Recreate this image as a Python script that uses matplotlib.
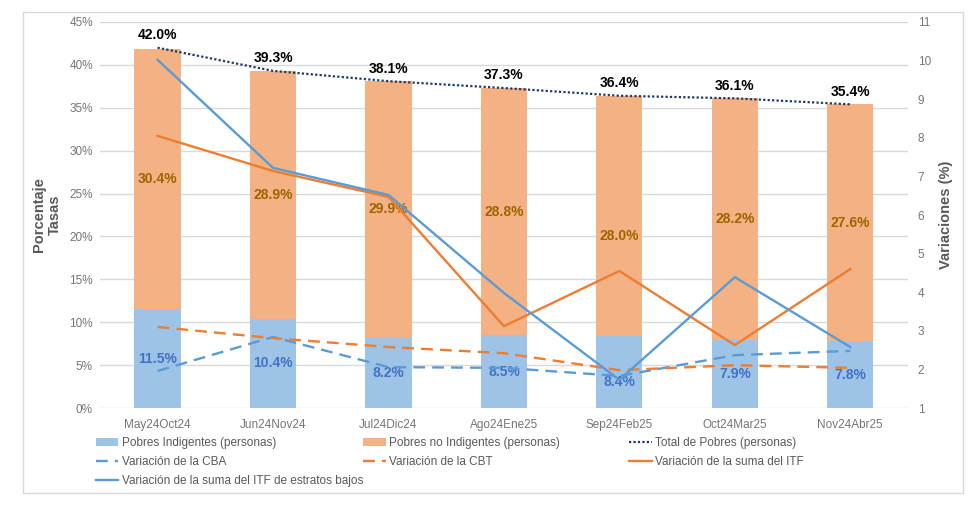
import matplotlib.pyplot as plt
import matplotlib.patches as mpatches
import numpy as np

plt.rcParams['font.family'] = ['Liberation Sans', 'DejaVu Sans']

periodos = ['May24Oct24', 'Jun24Nov24', 'Jul24Dic24', 'Ago24Ene25',
            'Sep24Feb25', 'Oct24Mar25', 'Nov24Abr25']
indigentes = [11.5, 10.4, 8.2, 8.5, 8.4, 7.9, 7.8]
no_indigentes = [30.4, 28.9, 29.9, 28.8, 28.0, 28.2, 27.6]
total_pobres = [42.0, 39.3, 38.1, 37.3, 36.4, 36.1, 35.4]
var_cba = [1.96, 2.84, 2.06, 2.04, 1.83, 2.37, 2.48]
var_cbt = [3.10, 2.81, 2.58, 2.42, 1.98, 2.11, 2.04]
var_itf = [8.05, 7.14, 6.47, 3.12, 4.55, 2.63, 4.60]
var_itf_bajos = [10.02, 7.22, 6.52, 3.98, 1.73, 4.39, 2.58]

grey = '#595959'
tick_grey = '#757575'
c_ind = '#9DC3E6'
c_noind = '#F4B183'
c_blue = '#5B9BD5'
c_orange = '#ED7D31'
c_navy = '#203864'

fig = plt.figure(figsize=(9.79, 5.09), dpi=100)
fig.patches.append(mpatches.Rectangle((0.0235, 0.031), 0.96, 0.945, transform=fig.transFigure,
                                      fill=False, edgecolor='#D9D9D9', linewidth=1))
ax = fig.add_axes([0.102, 0.1984, 0.8255, 0.7584])
ax2 = ax.twinx()

x = np.arange(len(periodos))
b1 = ax.bar(x, indigentes, width=0.4, color=c_ind, label='Pobres Indigentes (personas)', zorder=2)
b2 = ax.bar(x, no_indigentes, width=0.4, bottom=indigentes, color=c_noind,
            label='Pobres no Indigentes (personas)', zorder=2)
l_tot, = ax.plot(x, total_pobres, linestyle=(0, (1, 1)), color=c_navy, linewidth=1.6,
                 label='Total de Pobres (personas)', zorder=3)

l_cba, = ax2.plot(x, var_cba, color=c_blue, linestyle=(0, (5, 3)), linewidth=1.7, label='Variación de la CBA')
l_cbt, = ax2.plot(x, var_cbt, color=c_orange, linestyle=(0, (5, 3)), linewidth=1.7, label='Variación de la CBT')
l_itf, = ax2.plot(x, var_itf, color=c_orange, linewidth=1.7, label='Variación de la suma del ITF')
l_itfb, = ax2.plot(x, var_itf_bajos, color=c_blue, linewidth=1.7,
                   label='Variación de la suma del ITF de estratos bajos')

ax.set_xlim(-0.5, len(periodos) - 0.5)
ax.set_ylim(0, 45)
ax2.set_ylim(1, 11)
ax.set_yticks(np.arange(0, 46, 5))
ax.set_yticklabels([f'{v}%' for v in range(0, 46, 5)])
ax2.set_yticks(range(1, 12))
ax.set_xticks(x)
ax.set_xticklabels(periodos)
ax.grid(axis='y', color='#D9D9D9', linewidth=1, zorder=0)
ax.set_axisbelow(True)
for a in (ax, ax2):
    for s in a.spines.values():
        s.set_visible(False)
    a.tick_params(length=0, labelsize=8.5, labelcolor=tick_grey)
ax.tick_params(axis='x', pad=8)
ax.tick_params(axis='y', pad=5)
ax2.tick_params(axis='y', pad=7)

ax.set_ylabel('Porcentaje\nTasas', fontsize=10.5, fontweight='bold', color=grey)
ax.yaxis.set_label_coords(-0.047, 0.5)
ax2.set_ylabel('Variaciones (%)', fontsize=10.5, fontweight='bold', color=grey)
ax2.yaxis.set_label_coords(1.038, 0.5)

ind_off = [0, 0, 0, 0, -1.2, 0, 0]
noind_off = [0, 0, 0, 0, -2.4, 0, 0]
for i in x:
    ax.text(i, indigentes[i] / 2 + ind_off[i], f'{indigentes[i]:.1f}%', ha='center', va='center',
            fontsize=10, fontweight='bold', color='#4472C4', zorder=5)
    ax.text(i, indigentes[i] + no_indigentes[i] / 2 + noind_off[i], f'{no_indigentes[i]:.1f}%',
            ha='center', va='center', fontsize=10, fontweight='bold', color='#9C6500', zorder=5)
    ax.annotate(f'{total_pobres[i]:.1f}%', (i, total_pobres[i]), xytext=(0, 4),
                textcoords='offset points', ha='center', va='bottom',
                fontsize=10, fontweight='bold', color='black', zorder=5)

cols = [([b1, l_cba, l_itfb], 0.098), ([b2, l_cbt], 0.371), ([l_tot, l_itf], 0.643)]
for hs, xpos in cols:
    fig.legend(hs, [h.get_label() for h in hs], loc='upper left', bbox_to_anchor=(xpos, 0.141),
               frameon=False, fontsize=8.5, labelcolor=grey, handlelength=1.9, handletextpad=0.3,
               labelspacing=0.6, borderpad=0, borderaxespad=0)

fig.savefig('out.png', dpi=100)
